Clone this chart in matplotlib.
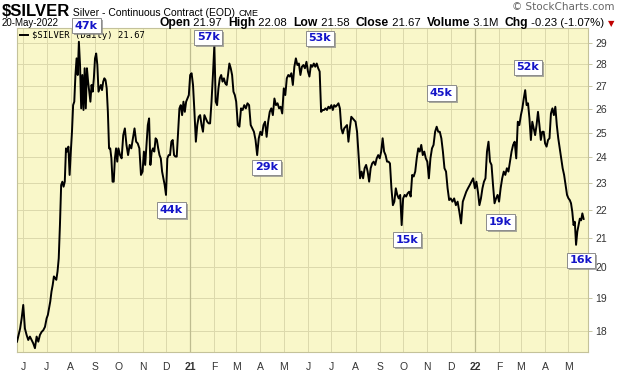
import matplotlib
matplotlib.use("Agg")
import matplotlib.pyplot as plt
from matplotlib import patheffects
import pandas as pd

# Дневные закрытия серебра, сгруппированы по месяцам
period_start = "2020-05-24"
period_end = "2022-05-22"
month_counts = [4, 14, 20, 21, 20, 15, 18, 18, 17, 16, 15, 15, 16, 16,
                17, 16, 16, 16, 15, 14, 16, 14, 17, 16, 13]
closes = [
    # май 2020
    17.68, 17.88, 18.07, 18.38,
    # июнь
    18.79, 18.07, 17.88, 17.73, 17.83, 17.73, 17.63, 17.49, 17.83, 17.68, 17.88, 17.97, 18.02, 18.12,
    # июль
    18.38, 18.48, 18.68, 18.90, 19.21, 19.42, 19.70, 19.64, 19.59, 19.86, 20.30, 21.45, 22.92, 23.05,
    22.86, 23.05, 24.36, 24.23, 24.43, 23.31,
    # август
    24.23, 25.04, 26.17, 26.32, 27.51, 28.28, 27.51, 29.07, 27.97, 26.03, 27.51, 25.96, 27.82, 26.03,
    27.82, 27.21, 26.76, 26.32, 27.06, 26.76, 27.36,
    # сентябрь
    28.28, 28.51, 27.97, 26.76, 26.91, 27.06, 26.83, 27.21, 27.36, 27.28, 26.91, 25.88, 24.36, 24.36,
    23.96, 23.05, 23.05, 23.96, 24.36, 23.83,
    # октябрь
    24.36, 24.09, 23.96, 24.90, 25.18, 24.50, 24.09, 24.50, 24.36, 24.77, 25.18, 24.63, 24.56, 24.36, 23.31,
    # ноябрь
    23.44, 24.23, 23.70, 24.50, 25.32, 25.60, 23.70, 24.23, 24.36, 24.23, 24.77, 24.70, 24.36, 24.09,
    23.96, 23.44, 23.18, 22.92,
    # декабрь
    22.55, 23.96, 24.09, 24.09, 24.63, 24.70, 24.09, 24.03, 24.03, 25.04, 26.03, 26.17, 25.74, 26.32,
    25.88, 26.32, 26.46, 26.61,
    # январь 2021
    27.51, 27.59, 27.06, 25.88, 24.63, 25.32, 25.67, 25.74, 25.32, 25.04, 25.74, 25.60, 25.46, 25.39,
    25.39, 26.32, 27.51,
    # февраль
    28.91, 26.32, 26.17, 26.91, 27.36, 27.51, 27.21, 27.36, 27.13, 27.06, 27.51, 28.04, 27.82, 27.51,
    26.76, 26.61,
    # март
    26.32, 25.32, 25.25, 26.03, 25.96, 26.17, 26.03, 26.25, 26.17, 25.32, 25.18, 25.04, 24.70, 24.09, 24.77,
    # апрель
    25.04, 24.90, 25.32, 25.46, 24.83, 25.46, 25.88, 26.03, 25.74, 26.46, 26.17, 26.25, 26.03, 26.10, 25.81,
    # май
    26.91, 26.61, 27.36, 27.51, 27.44, 27.59, 27.06, 27.89, 28.28, 27.97, 28.04, 27.51, 27.89, 27.97,
    27.82, 28.12,
    # июнь
    27.67, 27.44, 27.97, 27.89, 28.04, 27.89, 28.04, 27.82, 27.67, 25.88, 25.96, 25.96, 26.03, 25.96,
    26.10, 26.03,
    # июль
    26.17, 25.96, 26.17, 26.10, 26.17, 26.25, 26.03, 25.18, 24.97, 25.18, 25.25, 25.32, 24.63, 25.18,
    25.67, 25.60, 25.53,
    # август
    25.46, 25.04, 24.09, 23.18, 23.44, 23.18, 23.57, 23.70, 23.44, 23.05, 23.57, 23.76, 23.83, 23.70,
    23.96, 24.09,
    # сентябрь
    23.96, 24.23, 24.77, 24.23, 24.09, 23.83, 23.83, 23.76, 22.80, 22.17, 22.30, 22.80, 22.55, 22.42,
    22.55, 21.45,
    # октябрь
    22.42, 22.55, 22.49, 22.61, 22.67, 22.49, 23.31, 23.25, 23.44, 23.96, 24.36, 24.23, 24.50, 24.09,
    24.23, 23.96,
    # ноябрь
    23.83, 23.18, 23.96, 24.36, 24.50, 25.04, 25.25, 25.04, 25.04, 24.77, 24.23, 23.57, 23.44, 22.80, 22.36,
    # декабрь
    22.42, 22.30, 22.42, 22.17, 22.30, 21.93, 21.51, 22.30, 22.49, 22.67, 22.80, 22.92, 23.05, 23.18,
    # январь 2022
    22.80, 23.05, 22.67, 22.17, 22.42, 22.80, 23.05, 23.18, 24.23, 24.63, 23.83, 23.70, 22.92, 22.24,
    22.42, 22.55,
    # февраль
    22.30, 22.80, 23.18, 23.44, 23.31, 23.57, 23.44, 23.83, 24.23, 24.50, 24.63, 23.96, 25.46, 25.32,
    # март
    25.74, 26.03, 26.46, 26.83, 26.17, 26.25, 25.60, 24.70, 25.46, 25.18, 24.90, 25.32, 25.88, 25.32,
    24.70, 25.04, 25.04,
    # апрель
    24.56, 24.43, 24.70, 24.77, 25.81, 26.03, 25.74, 26.10, 25.32, 24.77, 24.36, 23.96, 23.57, 23.31,
    22.92, 22.55,
    # май
    22.42, 22.36, 22.24, 21.93, 21.45, 21.57, 20.76, 21.22, 21.45, 21.68, 21.62, 21.87, 21.67,
]

# Подписи объёма торгов у экстремумов
vol_labels = ["47k", "57k", "53k", "44k", "29k", "15k", "45k", "19k", "52k", "16k"]
vol_dates = ["2020-08-21", "2021-01-24", "2021-06-16", "2020-12-08", "2021-04-09",
             "2021-10-06", "2021-11-19", "2022-02-03", "2022-03-10", "2022-05-17"]
vol_prices = [29.86, 29.28, 29.23, 21.99, 23.60, 20.94, 26.70, 21.56, 27.86, 20.23]

y_ticks = [18, 19, 20, 21, 22, 23, 24, 25, 26, 27, 28, 29]
month_labels = ["J", "J", "A", "S", "O", "N", "D", "21", "F", "M", "A", "M",
                "J", "J", "A", "S", "O", "N", "D", "22", "F", "M", "A", "M"]

# Даты точек: каждую группу распределяем равномерно внутри её месяца
month_starts = pd.date_range("2020-06-01", "2022-05-01", freq="MS")
edges = [pd.Timestamp(period_start)] + list(month_starts) + [pd.Timestamp(period_end)]
dates = []
for i, n in enumerate(month_counts):
    a, b = edges[i], edges[i + 1]
    dates += [a + (b - a) * k / n for k in range(n)]

W, H = 620, 376
fig = plt.figure(figsize=(W / 100, H / 100), dpi=100)
fig.patch.set_facecolor("white")
ax = fig.add_axes([17 / W, 1 - 352 / H, (588 - 17) / W, (352 - 28) / H])
ax.set_facecolor("#F9F7C9")

ax.plot(dates, closes, color="black", lw=1.4, zorder=3, label=r"\$SILVER (Daily) 21.67")

ax.set_yscale("log")
ax.set_ylim(17.38, 29.74)
ax.set_xlim(pd.Timestamp("2020-05-24"), pd.Timestamp("2022-05-26"))

ax.yaxis.tick_right()
ax.set_yticks(y_ticks, labels=[str(v) for v in y_ticks])
ax.set_yticks([], minor=True)
ax.set_xticks(month_starts, labels=month_labels)
for lab, txt in zip(ax.get_xticklabels(), month_labels):
    lab.set_family("Liberation Sans")
    if txt.isdigit():
        lab.set_fontweight("bold")
for lab in ax.get_yticklabels():
    lab.set_family("Liberation Sans")
ax.tick_params(axis="x", length=0, pad=7, labelsize=7.5, labelcolor="#333333")
ax.tick_params(axis="y", length=3, width=0.6, color="#BDBB92", pad=2,
               labelsize=7.5, labelcolor="#333333")

ax.grid(True, color="#DCD9AC", lw=0.7)
ax.set_axisbelow(True)
for yr in ["2021-01-01", "2022-01-01"]:
    ax.axvline(pd.Timestamp(yr), color="#BEBC90", lw=0.9, zorder=1)
for s in ax.spines.values():
    s.set_color("#C4C29A")
    s.set_linewidth(0.8)

ax.legend(loc="upper left", frameon=False, handlelength=0.9, handletextpad=0.4,
          borderaxespad=0.1, borderpad=0.25,
          prop={"family": "DejaVu Sans Mono", "size": 6.4})

# Рамки с объёмом
for txt, d, p in zip(vol_labels, vol_dates, vol_prices):
    t = ax.text(pd.Timestamp(d), p, txt, ha="center", va="center", fontsize=8,
                fontweight="bold", color="#1414C8", family="DejaVu Sans",
                zorder=10, clip_on=False,
                bbox=dict(boxstyle="square,pad=0.25", fc="white", ec="#8C8C8C", lw=0.7))
    t.get_bbox_patch().set_path_effects([
        patheffects.SimplePatchShadow(offset=(1.5, -1.5), shadow_rgbFace="#888888", alpha=0.7),
        patheffects.Normal()])

# Шапка
def px(x, y):
    return x / W, 1 - y / H

renderer = fig.canvas.get_renderer()

def chain(pieces, x, y, align="left"):
    arts = []
    for s, kw in pieces:
        arts.append(fig.text(0, 0, s, va="baseline", **kw))
    widths = [a.get_window_extent(renderer).width for a in arts]
    if align == "right":
        x -= sum(widths)
    for a, w in zip(arts, widths):
        a.set_position(px(x, y))
        x += w

base = {"family": "Liberation Sans", "color": "black"}
chain([(r"\$SILVER", dict(base, fontsize=12, fontweight="bold")),
       (" Silver - Continuous Contract (EOD) ", dict(base, fontsize=7.5)),
       ("CME", dict(base, fontsize=6.5))], 2, 16)
fig.text(*px(2, 26), "20-May-2022", va="baseline", fontsize=7, **base)

bold = dict(base, fontsize=8.7, fontweight="bold")
norm = dict(base, fontsize=8.2)
chain([("Open", bold), (" 21.97  ", norm), ("High", bold), (" 22.08  ", norm),
       ("Low", bold), (" 21.58  ", norm), ("Close", bold), (" 21.67  ", norm),
       ("Volume", bold), (" 3.1M  ", norm), ("Chg", bold), (" -0.23 (-1.07%) ", norm),
       ("\u25bc", {"family": "DejaVu Sans", "fontsize": 6, "color": "#C00000"})],
      614, 26, align="right")
fig.text(*px(614, 10), "\u00a9 StockCharts.com", ha="right", va="baseline",
         fontsize=7.5, family="DejaVu Sans", color="#666666")

fig.savefig("out.png", dpi=100)
